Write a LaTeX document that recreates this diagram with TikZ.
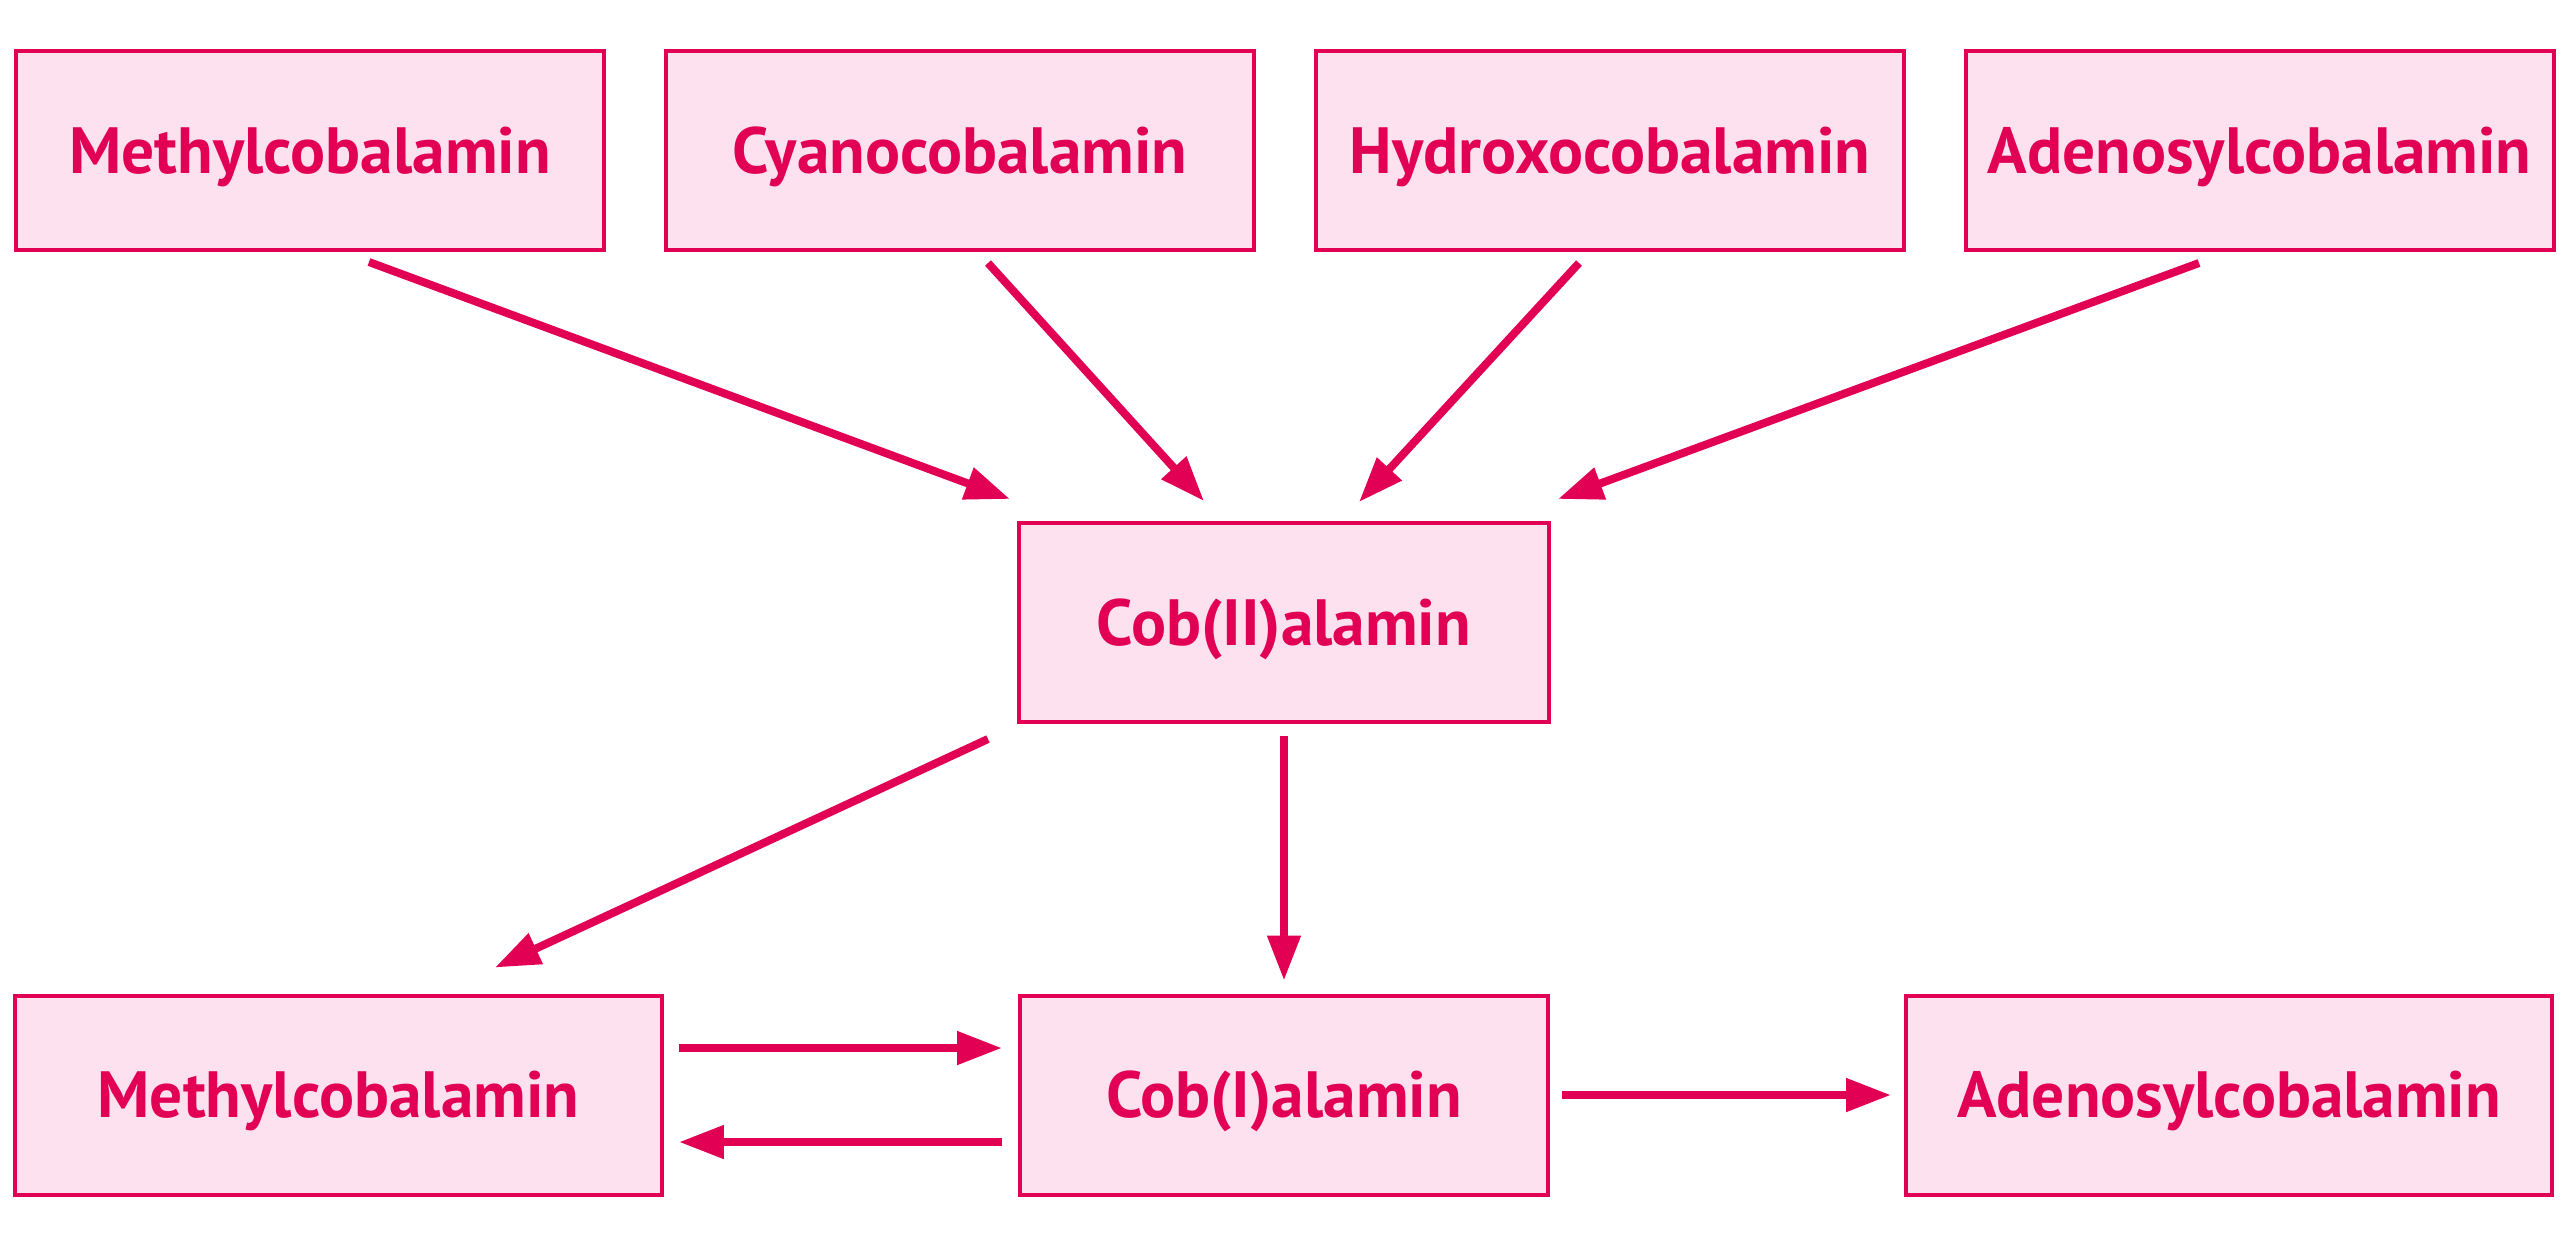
\documentclass[tikz,border=0pt]{standalone}
\usepackage{fontspec}
\setmainfont{PT Sans}
\usetikzlibrary{positioning,arrows.meta}
\definecolor{cblred}{RGB}{226,0,84}
\definecolor{cblpink}{RGB}{253,225,239}

\begin{document}
\begin{tikzpicture}[-{Triangle[length=0.45cm,width=0.32cm]} ,color=cblred ,line width=0.08cm ,on grid ,
form/.style ={ rectangle ,fill =cblpink ,draw ,line width =0.04cm ,
font=\bfseries\fontsize{18.6}{20}\selectfont ,inner sep =0pt ,text height =0.45cm ,text depth =0pt ,
minimum width =5.88cm ,minimum height =1.99cm}]
\useasboundingbox (-12.84,-6.115) rectangle (12.89,6.225);
\node[form,minimum width=5.3cm] (II) {Cob(II)alamin};
\node[form] (cyano) [above left = 4.72cm and 3.24cm of II] {Cyanocobalamin};
\node[form] (hydroxo) [above right = 4.72cm and 3.26cm of II] {Hydroxocobalamin};
\node[form] (methyl) [left = 6.5cm of cyano] {Methylcobalamin};
\node[form] (adenosyl) [right = 6.495cm of hydroxo] {Adenosylcobalamin};
\node[form,minimum width=5.28cm] (I) [below = 4.725cm of II] {Cob(I)alamin};
\node[form,minimum width=6.47cm] (methyl2) [left = 9.455cm of I] {Methylcobalamin};
\node[form,minimum width=6.46cm] (adenosyl2) [right = 9.45cm of I] {Adenosylcobalamin};
% into Cob(II)alamin
\draw ([shift={(0.59,-0.10)}]methyl.south) -- ([shift={(-0.07,0.22)}]II.north west);
\draw ([shift={(0.28,-0.11)}]cyano.south) -- ([shift={(-0.80,0.20)}]II.north);
\draw ([shift={(-0.31,-0.11)}]hydroxo.south) -- ([shift={(0.75,0.19)}]II.north);
\draw ([shift={(-0.605,-0.11)}]adenosyl.south) -- ([shift={(0.07,0.22)}]II.north east);
% out of Cob(II)alamin
\draw ([shift={(-0.29,-0.15)}]II.south west) -- ([shift={(1.565,0.26)}]methyl2.north);
\draw[shorten <=0.12cm ,shorten >=0.13cm] (II) -- (I);
% bottom row
\draw[shorten <=0.15cm ,shorten >=0.16cm] ([yshift=0.47cm]methyl2.east) -- ([yshift=0.47cm]I.west);
\draw[shorten <=0.16cm ,shorten >=0.15cm] ([yshift=-0.47cm]I.west) -- ([yshift=-0.47cm]methyl2.east);
\draw[shorten <=0.12cm ,shorten >=0.13cm] (I) -- (adenosyl2);
\end{tikzpicture}
\end{document}
